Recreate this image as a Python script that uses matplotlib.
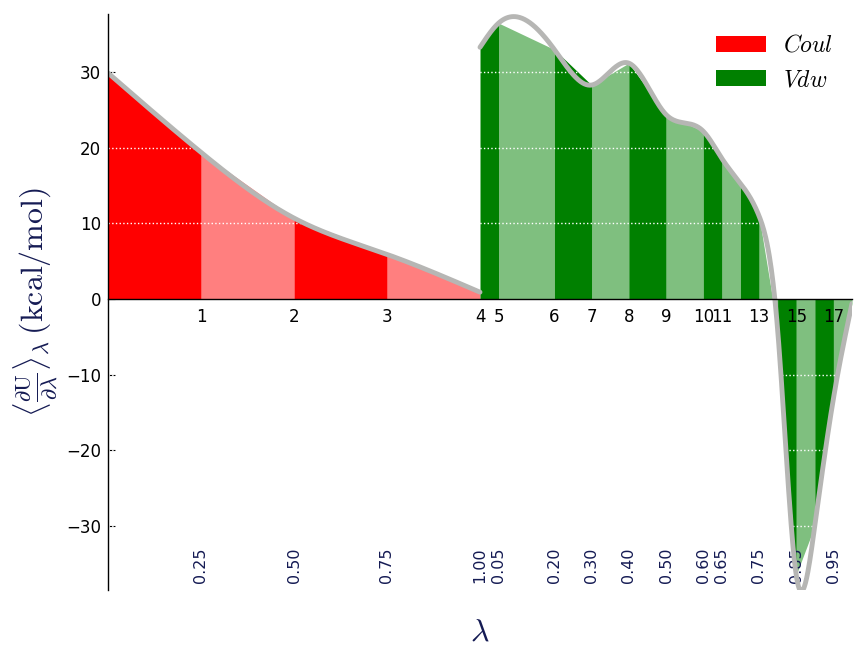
"""
dH/dlambda vs lambda plot (TI / TI-CUBIC) for the Coul and Vdw components.
"""

import numpy as np
import matplotlib
matplotlib.use('Agg')
import matplotlib.pyplot as plt

plt.rcParams['mathtext.fontset'] = 'cm'

# lambda states and average dH/dl (kcal/mol)
coul_lambdas = [0.0, 0.25, 0.50, 0.75, 1.00]
coul_dhdl = [29.9, 19.4, 10.7, 5.9, 0.9]

vdw_lambdas = [0.0, 0.05, 0.20, 0.30, 0.40, 0.50, 0.60, 0.65, 0.70,
               0.75, 0.80, 0.85, 0.90, 0.95, 1.00]
vdw_dhdl = [33.3, 36.5, 33.0, 28.3, 31.2, 24.4, 22.2, 18.6, 15.3,
            11.0, -4.0, -36.5, -30.0, -13.2, -0.6]

component_names = ['Coul', 'Vdw']
component_colors = ['r', 'g']

# state indices that get a label on the x axis
shown_states = [1, 2, 3, 4, 5, 6, 7, 8, 9, 10, 11, 13, 15, 17]
y_ticks = [-30, -20, -10, 0, 10, 20, 30]


def natural_cubic_spline(x, y, xnew):
    """Evaluate a natural cubic spline through (x, y) at xnew."""
    x = np.asarray(x, float)
    y = np.asarray(y, float)
    n = len(x)
    h = np.diff(x)
    A = np.zeros((n, n))
    b = np.zeros(n)
    A[0, 0] = A[-1, -1] = 1.0
    for i in range(1, n - 1):
        A[i, i - 1] = h[i - 1]
        A[i, i] = 2 * (h[i - 1] + h[i])
        A[i, i + 1] = h[i]
        b[i] = 6 * ((y[i + 1] - y[i]) / h[i] - (y[i] - y[i - 1]) / h[i - 1])
    M = np.linalg.solve(A, b)
    k = np.clip(np.searchsorted(x, xnew) - 1, 0, n - 2)
    t0 = x[k + 1] - xnew
    t1 = xnew - x[k]
    hk = h[k]
    return (M[k] * t0**3 / (6 * hk) + M[k + 1] * t1**3 / (6 * hk)
            + (y[k] / hk - M[k] * hk / 6) * t0
            + (y[k + 1] / hk - M[k + 1] * hk / 6) * t1)


fig = plt.figure(figsize=(8.59, 6.49), dpi=100)
ax = fig.add_axes([108 / 859, 59 / 649, 744 / 859, 576 / 649])
ax.spines['bottom'].set_position('zero')
ax.spines['top'].set_color('none')
ax.spines['right'].set_color('none')
for spine in ax.spines.values():
    spine.set_zorder(12.2)
    spine.set_linewidth(1.0)

components = [(coul_lambdas, coul_dhdl), (vdw_lambdas, vdw_dhdl)]
for j, (lams, dhdl) in enumerate(components):
    x = np.array(lams) + j
    y = np.array(dhdl)
    color = component_colors[j]
    for i in range(len(x) - 1):
        ax.fill_between(x[i:i + 2], 0, y[i:i + 2], color=color,
                        alpha=1.0 if i % 2 == 0 else 0.5, lw=0, zorder=3,
                        label=r'$%s$' % component_names[j] if i == 0 else None)
    xnew = np.linspace(x[0], x[-1], 600)
    ax.plot(xnew, natural_cubic_spline(x, y, xnew), color='#B6B6B4', ls='-',
            lw=3.5, solid_capstyle='round', zorder=6)

# white dotted grid drawn over the filled areas
ax.hlines([t for t in y_ticks if t != 0], 0, 2, colors='w', linestyles=':',
          lw=1, zorder=4)

ax.set_xlim(0, 2)
ax.set_ylim(-38.5, 37.7)

positions = list(coul_lambdas) + [1 + v for v in vdw_lambdas[1:]]
lam_text = list(coul_lambdas) + list(vdw_lambdas[1:])
ax.set_xticks([positions[s] for s in shown_states])
ax.set_xticklabels([str(s) for s in shown_states])
ax.set_yticks(y_ticks)
ax.tick_params(axis='x', length=0, pad=6.5, labelsize=12)
ax.tick_params(axis='y', direction='in', length=5, pad=5, labelsize=12)
ax.xaxis.set_zorder(7)
ax.yaxis.set_zorder(1)

for s in shown_states:
    ax.annotate('%.2f' % lam_text[s], xy=(positions[s], 0.012),
                xycoords=('data', 'axes fraction'), rotation=90,
                ha='center', va='bottom', fontsize=11.5, color='#151B54')

ax.set_xlabel(r'$\lambda$', fontsize=23, color='#151B54')
ax.xaxis.set_label_coords(0.5, -0.047)
ax.set_ylabel(r'$\mathrm{\langle{\frac{ \partial U } { \partial \lambda }}\rangle_{\lambda}\/(kcal/mol)}$',
              fontsize=23, color='#151B54')
ax.yaxis.set_label_coords(-0.065, 0.5)

ax.legend(loc='upper right', frameon=False, fontsize=17, handlelength=2.12,
          handleheight=0.68, handletextpad=0.72, labelspacing=0.45,
          borderaxespad=0.4)

fig.savefig('out.png', dpi=100)
